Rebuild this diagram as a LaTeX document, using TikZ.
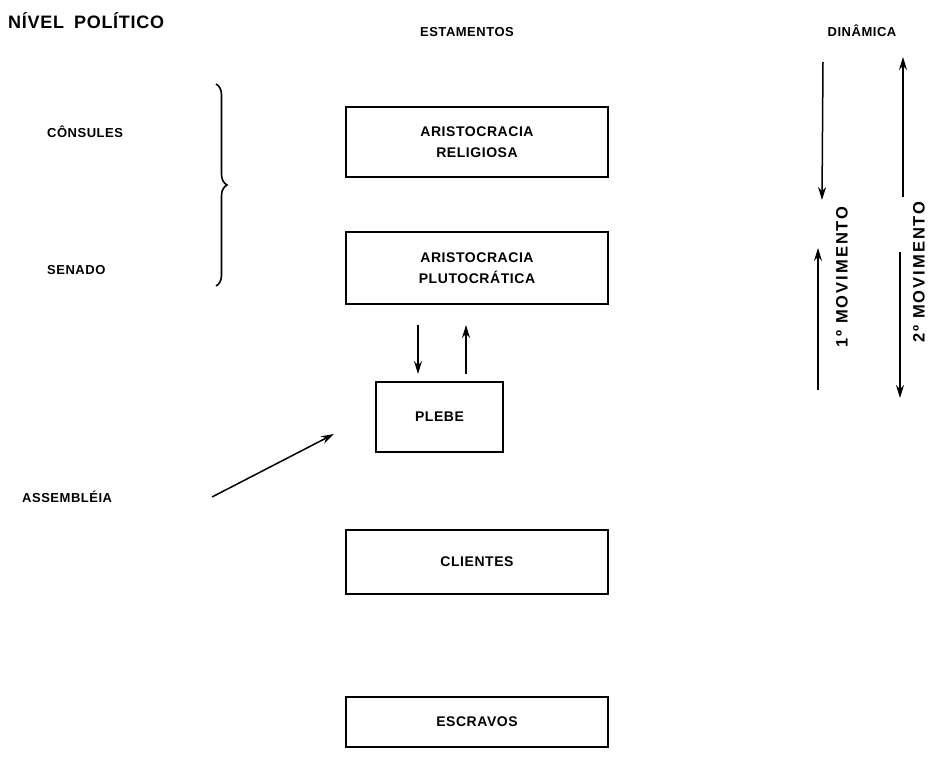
\documentclass[tikz,border=0pt]{standalone}
\usepackage{fontspec}
\setmainfont{Liberation Sans}
\newfontfamily\lblfont[LetterSpace=4]{Liberation Sans}
\newfontfamily\movfont[LetterSpace=12]{Liberation Sans}
\usetikzlibrary{arrows.meta,positioning,decorations.pathreplacing}
\tikzset{
  estamento/.style={draw, line width=1.6pt, minimum width=262pt, inner sep=0pt,
    align=center, font=\lblfont\bfseries\fontsize{14}{21}\selectfont},
  rotulo/.style={font=\lblfont\bfseries\fontsize{13}{15}\selectfont, inner sep=0pt},
  movto/.style={rotulo, rotate=90, font=\movfont\bfseries\fontsize{16.5}{18}\selectfont},
  seta/.style={->, line width=1.5pt}
}
\begin{document}
\begin{tikzpicture}[>={Stealth[length=13pt,width=8pt]}, x=1pt, y=-1pt]
    \useasboundingbox (0,0) rectangle (930,779);
% titulos
    \node[rotulo, anchor=west, font=\lblfont\bfseries\fontsize{18}{20}\selectfont] (nivel) at (8,21) {NÍVEL\hspace{10pt}POLÍTICO};
    \node[rotulo] (estam) at (467,32) {ESTAMENTOS};
    \node[rotulo] (dinam) at (862,31) {DINÂMICA};
% nivel politico
    \node[rotulo, anchor=west] (consules) at (47,132) {CÔNSULES};
    \node[rotulo, anchor=west] (senado) at (47,270) {SENADO};
    \node[rotulo, anchor=west] (assemb) at (22,497) {ASSEMBLÉIA};
    \draw[line width=1.6pt, decorate, decoration={brace, amplitude=11pt}](216,84)--(216,286);
% estamentos
    \node[estamento, minimum height=70pt] (religiosa) at (477,142) {ARISTOCRACIA\\RELIGIOSA};
    \node[estamento, minimum height=72pt] (pluto) at (477,268) {ARISTOCRACIA\\PLUTOCRÁTICA};
    \node[estamento, minimum width=127pt, minimum height=70pt] (plebe) at (439.5,417) {PLEBE};
    \node[estamento, minimum height=64pt] (clientes) at (477,562) {CLIENTES};
    \node[estamento, minimum height=50pt] (escravos) at (477,722) {ESCRAVOS};
% setas entre pluto e plebe
    \coordinate (p1) at (418,325);
    \coordinate (p2) at (418,374);
    \coordinate (p3) at (466,374);
    \coordinate (p4) at (466,325);
    \draw[seta](p1)--(p2);
    \draw[seta](p3)--(p4);
    \coordinate (a1) at (212,497);
    \coordinate (a2) at (334,434);
    \draw[seta](a1)--(a2);
% dinamica
    \coordinate (d1) at (823,62);
    \coordinate (d2) at (822,200);
    \coordinate (d3) at (818,390);
    \coordinate (d4) at (818,248);
    \coordinate (d5) at (903,197);
    \coordinate (d6) at (903,57);
    \coordinate (d7) at (900,252);
    \coordinate (d8) at (900,398);
    \draw[seta](d1)--(d2);
    \draw[seta](d3)--(d4);
    \draw[seta](d5)--(d6);
    \draw[seta](d7)--(d8);
    \node[movto] (mov1) at (842,277) {1º MOVIMENTO};
    \node[movto] (mov2) at (919,272) {2º MOVIMENTO};
\end{tikzpicture}
\end{document}
